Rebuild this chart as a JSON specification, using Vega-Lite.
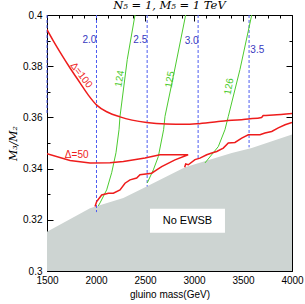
{
  "$schema": "https://vega.github.io/schema/vega-lite/v6.json",
  "width": 245,
  "height": 256,
  "autosize": {"type": "none"},
  "padding": {"left": 47, "top": 15, "right": 13, "bottom": 33},
  "background": "white",
  "view": {"stroke": "black", "strokeWidth": 1},
  "title": {"text": "N₅ = 1,  M₅ = 1 TeV", "font": "DejaVu Serif", "fontStyle": "italic", "fontWeight": "normal", "fontSize": 11.5, "offset": 2, "dy": 3, "anchor": "middle", "color": "black"},
  "config": {
    "axis": {"grid": false, "domain": false, "labelFont": "Liberation Sans", "labelFontSize": 10, "labelColor": "black", "tickColor": "black", "titleColor": "black", "titleFontWeight": "normal"}
  },
  "datasets": {
    "gray": [
      {"x": 1500, "y": 0.3153}, {"x": 1939, "y": 0.3245}, {"x": 2279, "y": 0.3285}, {"x": 2517, "y": 0.333},
      {"x": 2908, "y": 0.3405}, {"x": 3385, "y": 0.3461}, {"x": 3589, "y": 0.348}, {"x": 4000, "y": 0.3533}
    ],
    "box": [{"x": 2551, "x2": 3316, "y": 0.3149, "y2": 0.3243, "t": "No EWSB"}],
    "blue": [
      {"x": 1500, "top": 0.4, "bot": 0.361},
      {"x": 2005, "top": 0.4, "bot": 0.323},
      {"x": 2522, "top": 0.4, "bot": 0.333},
      {"x": 3042, "top": 0.4, "bot": 0.3437},
      {"x": 3562, "top": 0.4, "bot": 0.3483}
    ],
    "bluelab": [
      {"x": 1932, "y": 0.3904, "t": "2.0"},
      {"x": 2452, "y": 0.3904, "t": "2.5"},
      {"x": 2976, "y": 0.3897, "t": "3.0"},
      {"x": 3646, "y": 0.3865, "t": "3.5"}
    ],
    "green": [
      {"s": "124", "i": 0, "x": 2398, "y": 0.4},
      {"s": "124", "i": 1, "x": 2319, "y": 0.3826},
      {"s": "124", "i": 2, "x": 2245, "y": 0.3604},
      {"s": "124", "i": 3, "x": 2235, "y": 0.3552},
      {"s": "124", "i": 4, "x": 2204, "y": 0.3462},
      {"s": "124", "i": 5, "x": 2160, "y": 0.3384},
      {"s": "124", "i": 6, "x": 2109, "y": 0.3317},
      {"s": "124", "i": 7, "x": 2041, "y": 0.3266},
      {"s": "124", "i": 8, "x": 2023, "y": 0.3254},
      {"s": "125", "i": 0, "x": 2915, "y": 0.4},
      {"s": "125", "i": 1, "x": 2789, "y": 0.376},
      {"s": "125", "i": 2, "x": 2704, "y": 0.3604},
      {"s": "125", "i": 3, "x": 2690, "y": 0.3552},
      {"s": "125", "i": 4, "x": 2636, "y": 0.3447},
      {"s": "125", "i": 5, "x": 2585, "y": 0.3395},
      {"s": "125", "i": 6, "x": 2523, "y": 0.3344},
      {"s": "126", "i": 0, "x": 3589, "y": 0.4},
      {"s": "126", "i": 1, "x": 3469, "y": 0.3787},
      {"s": "126", "i": 2, "x": 3350, "y": 0.3604},
      {"s": "126", "i": 3, "x": 3316, "y": 0.3552},
      {"s": "126", "i": 4, "x": 3248, "y": 0.3486},
      {"s": "126", "i": 5, "x": 3112, "y": 0.3422}
    ],
    "greenlab": [
      {"x": 2242, "y": 0.3751, "t": "124"},
      {"x": 2755, "y": 0.3748, "t": "125"},
      {"x": 3357, "y": 0.3721, "t": "126"}
    ],
    "d100": [
      {"x": 1500, "y": 0.3943},
      {"x": 1560, "y": 0.3902},
      {"x": 1633, "y": 0.3855},
      {"x": 1740, "y": 0.3790},
      {"x": 1837, "y": 0.3735},
      {"x": 1920, "y": 0.3688},
      {"x": 2007, "y": 0.3648},
      {"x": 2120, "y": 0.3620},
      {"x": 2245, "y": 0.3602},
      {"x": 2517, "y": 0.3580},
      {"x": 2721, "y": 0.3574},
      {"x": 2908, "y": 0.3573},
      {"x": 3027, "y": 0.3575},
      {"x": 3248, "y": 0.3584},
      {"x": 3554, "y": 0.3594},
      {"x": 3690, "y": 0.3600},
      {"x": 3707, "y": 0.3607},
      {"x": 3809, "y": 0.3609},
      {"x": 4000, "y": 0.3615}
    ],
    "red": [
      {"s": "low", "i": 0, "x": 2905, "y": 0.3405},
      {"s": "low", "i": 1, "x": 2915, "y": 0.3418},
      {"s": "low", "i": 2, "x": 2942, "y": 0.3415},
      {"s": "low", "i": 3, "x": 3010, "y": 0.3435},
      {"s": "low", "i": 4, "x": 3061, "y": 0.3441},
      {"s": "low", "i": 5, "x": 3130, "y": 0.3454},
      {"s": "low", "i": 6, "x": 3181, "y": 0.3461},
      {"s": "low", "i": 7, "x": 3232, "y": 0.3467},
      {"s": "low", "i": 8, "x": 3299, "y": 0.3480},
      {"s": "low", "i": 9, "x": 3350, "y": 0.3500},
      {"s": "low", "i": 10, "x": 3418, "y": 0.3502},
      {"s": "low", "i": 11, "x": 3487, "y": 0.3519},
      {"s": "low", "i": 12, "x": 3554, "y": 0.3532},
      {"s": "low", "i": 13, "x": 3673, "y": 0.3532},
      {"s": "low", "i": 14, "x": 3724, "y": 0.3539},
      {"s": "low", "i": 15, "x": 3793, "y": 0.3545},
      {"s": "low", "i": 16, "x": 3860, "y": 0.3559},
      {"s": "low", "i": 17, "x": 3929, "y": 0.3571},
      {"s": "low", "i": 18, "x": 4000, "y": 0.3580},
      {"s": "d50", "i": 0, "x": 1500, "y": 0.3458},
      {"s": "d50", "i": 1, "x": 1735, "y": 0.3432},
      {"s": "d50", "i": 2, "x": 1939, "y": 0.3422},
      {"s": "d50", "i": 3, "x": 2143, "y": 0.3423},
      {"s": "d50", "i": 4, "x": 2279, "y": 0.3428},
      {"s": "d50", "i": 5, "x": 2500, "y": 0.3441},
      {"s": "d50", "i": 6, "x": 2653, "y": 0.3454},
      {"s": "d50", "i": 7, "x": 2940, "y": 0.3454},
      {"s": "d50", "i": 8, "x": 2806, "y": 0.3434},
      {"s": "d50", "i": 9, "x": 2670, "y": 0.3408},
      {"s": "d50", "i": 10, "x": 2619, "y": 0.3395},
      {"s": "d50", "i": 11, "x": 2568, "y": 0.3382},
      {"s": "d50", "i": 12, "x": 2449, "y": 0.3376},
      {"s": "d50", "i": 13, "x": 2415, "y": 0.3363},
      {"s": "d50", "i": 14, "x": 2347, "y": 0.3356},
      {"s": "d50", "i": 15, "x": 2296, "y": 0.3343},
      {"s": "d50", "i": 16, "x": 2245, "y": 0.3317},
      {"s": "d50", "i": 17, "x": 2177, "y": 0.3304},
      {"s": "d50", "i": 18, "x": 2126, "y": 0.3304},
      {"s": "d50", "i": 19, "x": 2058, "y": 0.3297},
      {"s": "d50", "i": 20, "x": 2007, "y": 0.3271},
      {"s": "d50", "i": 21, "x": 1990, "y": 0.3252}
    ],
    "lab100": [{"x": 1850, "y": 0.3765, "t": "Δ=100"}],
    "lab50": [{"x": 1803, "y": 0.3454, "t": "Δ=50"}]
  },
  "resolve": {"axis": {"x": "independent", "y": "independent"}},
  "layer": [
    {
      "data": {"name": "gray"},
      "mark": {"type": "area", "color": "#cdd4d2", "opacity": 1},
      "encoding": {
        "x": {"field": "x", "type": "quantitative", "scale": {"domain": [1500, 4000], "nice": false, "zero": false},
          "axis": {"orient": "bottom", "values": [1500, 2000, 2500, 3000, 3500, 4000], "format": "d", "tickSize": -6, "labelPadding": 10, "title": "gluino mass(GeV)", "titleFont": "Liberation Sans", "titleFontSize": 10, "titlePadding": 4, "labelFlush": false}},
        "y": {"field": "y", "type": "quantitative", "scale": {"domain": [0.3, 0.4], "nice": false, "zero": false},
          "axis": {"orient": "left", "values": [0.3, 0.32, 0.34, 0.36, 0.38, 0.4], "format": ".2~f", "tickSize": -6, "labelPadding": 11, "title": "M₃/M₂", "titleFont": "DejaVu Serif", "titleFontStyle": "italic", "titleFontSize": 11, "titlePadding": 4}},
        "y2": {"datum": 0.3}
      }
    },
    {
      "data": {"name": "box"},
      "mark": {"type": "rect", "color": "white"},
      "encoding": {
        "x": {"field": "x", "type": "quantitative", "axis": {"orient": "top", "values": [1500, 2000, 2500, 3000, 3500, 4000], "labels": false, "tickSize": -6, "title": null}},
        "x2": {"field": "x2"},
        "y": {"field": "y", "type": "quantitative", "axis": {"orient": "right", "values": [0.3, 0.32, 0.34, 0.36, 0.38, 0.4], "labels": false, "tickSize": -6, "title": null}},
        "y2": {"field": "y2"}
      }
    },
    {
      "data": {"name": "box"},
      "mark": {"type": "text", "font": "Liberation Sans", "fontSize": 11, "color": "black"},
      "encoding": {
        "x": {"datum": 2933, "type": "quantitative", "axis": {"orient": "bottom", "values": [1625, 1750, 1875, 2125, 2250, 2375, 2625, 2750, 2875, 3125, 3250, 3375, 3625, 3750, 3875], "labels": false, "tickSize": -3, "title": null}},
        "y": {"datum": 0.3196, "type": "quantitative", "axis": {"orient": "left", "values": [0.31, 0.33, 0.35, 0.37, 0.39], "labels": false, "tickSize": -3, "title": null}},
        "text": {"field": "t"}
      }
    },
    {
      "data": {"name": "blue"},
      "mark": {"type": "rule", "color": "#4d5cf0", "strokeWidth": 1, "strokeDash": [3, 2]},
      "encoding": {
        "x": {"field": "x", "type": "quantitative", "axis": {"orient": "top", "values": [1625, 1750, 1875, 2125, 2250, 2375, 2625, 2750, 2875, 3125, 3250, 3375, 3625, 3750, 3875], "labels": false, "tickSize": -3, "title": null}},
        "y": {"field": "top", "type": "quantitative", "axis": {"orient": "right", "values": [0.31, 0.33, 0.35, 0.37, 0.39], "labels": false, "tickSize": -3, "title": null}},
        "y2": {"field": "bot"}
      }
    },
    {
      "data": {"name": "green"},
      "mark": {"type": "line", "color": "#4ccb2f", "strokeWidth": 1, "clip": true},
      "encoding": {
        "x": {"field": "x", "type": "quantitative", "axis": null},
        "y": {"field": "y", "type": "quantitative", "axis": null},
        "detail": {"field": "s"},
        "order": {"field": "i"}
      }
    },
    {
      "data": {"name": "d100"},
      "mark": {"type": "line", "color": "#ee1c1c", "strokeWidth": 1.5, "clip": true, "interpolate": "monotone"},
      "encoding": {
        "x": {"field": "x", "type": "quantitative", "axis": null},
        "y": {"field": "y", "type": "quantitative", "axis": null}
      }
    },
    {
      "data": {"name": "red"},
      "mark": {"type": "line", "color": "#ee1c1c", "strokeWidth": 1.5, "clip": true},
      "encoding": {
        "x": {"field": "x", "type": "quantitative", "axis": null},
        "y": {"field": "y", "type": "quantitative", "axis": null},
        "detail": {"field": "s"},
        "order": {"field": "i"}
      }
    },
    {
      "data": {"name": "bluelab"},
      "mark": {"type": "text", "font": "Liberation Sans", "fontSize": 10, "color": "#3838c0"},
      "encoding": {
        "x": {"field": "x", "type": "quantitative", "axis": null},
        "y": {"field": "y", "type": "quantitative", "axis": null},
        "text": {"field": "t"}
      }
    },
    {
      "data": {"name": "greenlab"},
      "mark": {"type": "text", "font": "Liberation Sans", "fontSize": 10, "color": "#4ccb2f", "angle": -80},
      "encoding": {
        "x": {"field": "x", "type": "quantitative", "axis": null},
        "y": {"field": "y", "type": "quantitative", "axis": null},
        "text": {"field": "t"}
      }
    },
    {
      "data": {"name": "lab100"},
      "mark": {"type": "text", "font": "Liberation Sans", "fontSize": 10, "color": "#ee1c1c", "angle": 52},
      "encoding": {
        "x": {"field": "x", "type": "quantitative", "axis": null},
        "y": {"field": "y", "type": "quantitative", "axis": null},
        "text": {"field": "t"}
      }
    },
    {
      "data": {"name": "lab50"},
      "mark": {"type": "text", "font": "Liberation Sans", "fontSize": 10, "color": "#ee1c1c"},
      "encoding": {
        "x": {"field": "x", "type": "quantitative", "axis": null},
        "y": {"field": "y", "type": "quantitative", "axis": null},
        "text": {"field": "t"}
      }
    }
  ]
}
